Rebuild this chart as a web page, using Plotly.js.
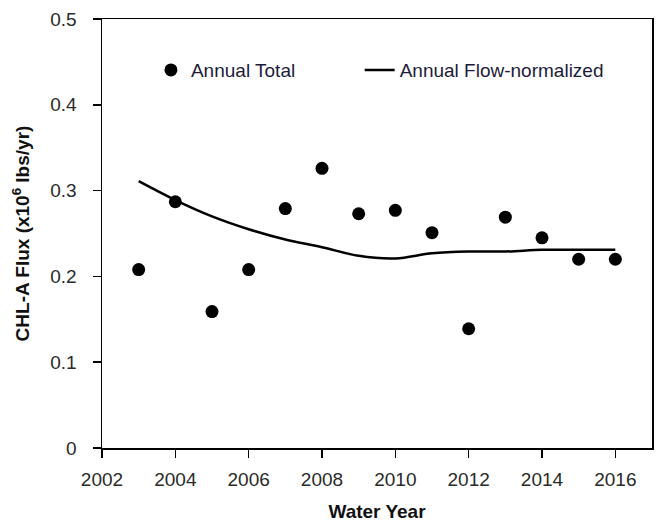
<!DOCTYPE html>
<html>
<head>
<meta charset="utf-8">
<script src="https://cdn.plot.ly/plotly-3.0.1.min.js"></script>
<style>html,body{margin:0;padding:0;background:#fff;}#chart{width:662px;height:529px;}</style>
</head>
<body>
<div id="chart"></div>
<script>
const years = [2003, 2004, 2005, 2006, 2007, 2008, 2009, 2010, 2011, 2012, 2013, 2014, 2015, 2016];
const annualTotal = [0.208, 0.287, 0.159, 0.208, 0.279, 0.326, 0.273, 0.277, 0.251, 0.139, 0.269, 0.245, 0.220, 0.220];
const flowNormalized = [0.311, 0.289, 0.270, 0.255, 0.243, 0.234, 0.224, 0.221, 0.227, 0.229, 0.229, 0.231, 0.231, 0.231];
const xTicks = [2002, 2004, 2006, 2008, 2010, 2012, 2014, 2016];
const yTicks = [0, 0.1, 0.2, 0.3, 0.4, 0.5];
const yTickText = ['0', '0.1', '0.2', '0.3', '0.4', '0.5'];

const font = "'Liberation Sans', Arial, sans-serif";
const legendFont = {family: font, size: 19, color: '#1c1c3a'};
const traces = [
  {x: years, y: annualTotal, type: 'scatter', mode: 'markers', name: 'Annual Total',
   marker: {color: '#000', size: 13}, legend: 'legend'},
  {x: years, y: flowNormalized, type: 'scatter', mode: 'lines', name: 'Annual Flow-normalized',
   line: {color: '#000', width: 2.5, shape: 'spline', smoothing: 1}, legend: 'legend2'}
];
const layout = {
  width: 662, height: 529,
  margin: {l: 102, r: 10, t: 19, b: 81},
  paper_bgcolor: '#fff', plot_bgcolor: '#fff',
  showlegend: true,
  legend: {x: 0.089, y: 0.881, xanchor: 'left', yanchor: 'middle',
    font: legendFont, bgcolor: 'rgba(0,0,0,0)', itemwidth: 30},
  legend2: {x: 0.4685, y: 0.881, xanchor: 'left', yanchor: 'middle',
    font: legendFont, bgcolor: 'rgba(0,0,0,0)', itemwidth: 30},
  xaxis: {range: [2002, 2017], tickvals: xTicks, ticktext: xTicks.map(String),
    showline: true, linecolor: '#000', linewidth: 1.5, mirror: true,
    ticks: 'outside', ticklen: 8, tickcolor: '#000', tickwidth: 1.5,
    ticklabelstandoff: 6,
    showgrid: false, zeroline: false,
    tickfont: {family: font, size: 19, color: '#2a2a2a'},
    title: {text: 'Water Year', font: {family: font, size: 19, color: '#111', weight: 'bold'}, standoff: 15}},
  yaxis: {range: [0, 0.5], tickvals: yTicks, ticktext: yTickText,
    showline: true, linecolor: '#000', linewidth: 1.5, mirror: true,
    ticks: 'outside', ticklen: 8, tickcolor: '#000', tickwidth: 1.5,
    ticklabelstandoff: 12,
    showgrid: false, zeroline: false,
    tickfont: {family: font, size: 19, color: '#2a2a2a'},
    title: {text: 'CHL-A Flux (x10<sup>6</sup> lbs/yr)', font: {family: font, size: 19, color: '#111', weight: 'bold'}, standoff: 15}}
};
Plotly.newPlot('chart', traces, layout, {displayModeBar: false, staticPlot: true});
</script>
</body>
</html>
